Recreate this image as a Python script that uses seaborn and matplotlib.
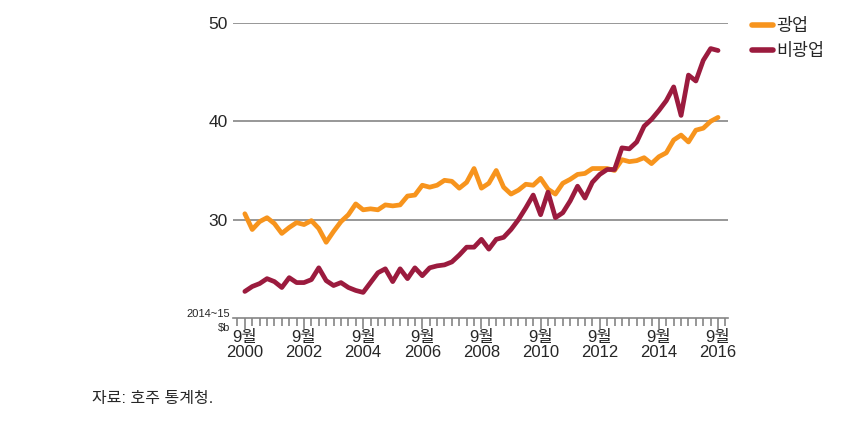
import numpy as np
import pandas as pd
import matplotlib.pyplot as plt
from matplotlib.ticker import MultipleLocator, FixedLocator
import seaborn as sns

# quarterly, Sep 2000 .. Sep 2016 (2014-15 $b)
mining = [30.6, 29.0, 29.8, 30.2, 29.6, 28.6, 29.2, 29.7, 29.5, 29.9,
          29.1, 27.7, 28.8, 29.8, 30.5, 31.6, 31.0, 31.1, 31.0, 31.5,
          31.4, 31.5, 32.4, 32.5, 33.5, 33.3, 33.5, 34.0, 33.9, 33.2,
          33.8, 35.2, 33.2, 33.7, 35.0, 33.3, 32.6, 33.0, 33.6, 33.5,
          34.2, 33.1, 32.6, 33.7, 34.1, 34.6, 34.7, 35.2, 35.2, 35.2,
          35.0, 36.1, 35.9, 36.0, 36.3, 35.7, 36.4, 36.8, 38.1, 38.6,
          37.9, 39.1, 39.3, 40.0, 40.4]
non_mining = [22.7, 23.2, 23.5, 24.0, 23.7, 23.1, 24.1, 23.6, 23.6, 23.9,
              25.1, 23.8, 23.3, 23.6, 23.1, 22.8, 22.6, 23.6, 24.6, 25.0,
              23.7, 25.0, 24.0, 25.1, 24.3, 25.1, 25.3, 25.4, 25.7, 26.4,
              27.2, 27.2, 28.0, 27.0, 28.0, 28.2, 29.0, 30.0, 31.2, 32.5,
              30.5, 32.8, 30.2, 30.7, 31.9, 33.4, 32.2, 33.8, 34.6, 35.1,
              35.1, 37.3, 37.2, 37.9, 39.5, 40.2, 41.1, 42.1, 43.5, 40.6,
              44.7, 44.1, 46.2, 47.4, 47.2]
years = ["2000", "2002", "2004", "2006", "2008", "2010", "2012", "2014", "2016"]
series_names = ["광업", "비광업"]

q = np.arange(len(mining))
df = pd.DataFrame({
    "q": np.concatenate([q, q]),
    "value": mining + non_mining,
    "series": [series_names[0]] * len(q) + [series_names[1]] * len(q),
})

sns.set_style("white")
plt.rcParams['font.family'] = ['Liberation Sans', 'Noto Sans CJK KR']

fig = plt.figure(figsize=(8.63, 4.21), dpi=100)
ax = fig.add_axes([0.270, 0.2447, 0.5736, 0.7007])

grid_c = "#858585"
for v in [30, 40, 50]:
    ax.axhline(v, color=grid_c, lw=1.2, zorder=1)

sns.lineplot(data=df, x="q", y="value", hue="series", hue_order=series_names,
             palette=["#f7941d", "#9b1b3e"], linewidth=3.4, ax=ax, zorder=3)

ax.set_xlim(-1.6, 65.35)
ax.set_ylim(20, 50)
ax.set_xlabel("")
ax.set_ylabel("")

for s in ["top", "right", "left"]:
    ax.spines[s].set_visible(False)
ax.spines["bottom"].set_color(grid_c)
ax.spines["bottom"].set_linewidth(1.2)

ax.xaxis.set_major_locator(FixedLocator(list(range(0, 65, 8))))
ax.xaxis.set_minor_locator(MultipleLocator(1))
ax.set_xticklabels(["9월\n" + y for y in years])
ax.tick_params(axis="x", which="major", length=8, width=1.2, color=grid_c,
               direction="out", labelsize=12, pad=1, bottom=True)
ax.tick_params(axis="x", which="minor", length=6, width=1.2, color=grid_c,
               direction="out", bottom=True)
for lab in ax.get_xticklabels():
    lab.set_linespacing(1.0)

ax.set_yticks([30, 40, 50])
ax.set_yticklabels(["30", "40", "50"])
ax.tick_params(axis="y", length=0, labelsize=12.5, pad=4)

ax.text(-0.006, -0.01, "2014~15\n$b", transform=ax.transAxes, ha="right",
        va="center", fontsize=8, linespacing=1.55)

leg = ax.legend(loc="upper left", bbox_to_anchor=(1.035, 1.04), frameon=False,
                fontsize=12.5, handlelength=1.2, handletextpad=0.2,
                labelspacing=0.5, borderaxespad=0)
for h in leg.get_lines():
    h.set_linewidth(4)

fig.text(92 / 863, 1 - 399 / 421, "자료: 호주 통계청.", fontsize=11.5,
         ha="left", va="center")

fig.savefig("out.png", dpi=100)
